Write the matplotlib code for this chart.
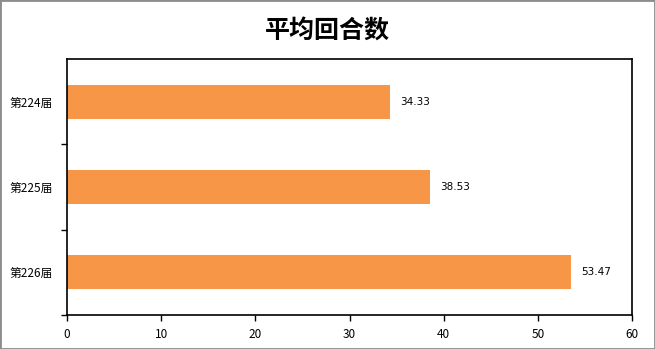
import matplotlib.pyplot as plt
import matplotlib.patches as mpatches

plt.rcParams['font.family'] = ['Noto Sans CJK SC', 'DejaVu Sans']

categories = ["第224届", "第225届", "第226届"]
values = [34.33, 38.53, 53.47]
title = "平均回合数"

fig = plt.figure(figsize=(6.55, 3.49), dpi=100)
ax = fig.add_axes([67 / 655, 34 / 349, 565 / 655, 256 / 349])

pos = list(range(len(categories)))
ax.barh(pos, values, height=0.4, color="#F79646")
for p, v in zip(pos, values):
    ax.text(v + 1.1, p, f"{v:.2f}", va="center", ha="left", fontsize=7.5, family="DejaVu Sans")

ax.set_xlim(0, 60)
ax.set_ylim(len(categories) - 0.5, -0.5)
ax.set_xticks(range(0, 61, 10))
ax.tick_params(axis="x", labelsize=8.5, length=4, width=1, direction="out", pad=5)
ax.set_yticks([0.5 + i for i in range(len(categories))])
ax.set_yticklabels([])
ax.set_yticks(pos, minor=True)
ax.set_yticklabels(categories, minor=True, fontsize=8.5)
ax.tick_params(axis="y", which="major", length=4, width=1, direction="out")
ax.tick_params(axis="y", which="minor", length=0, pad=10)
for s in ax.spines.values():
    s.set_linewidth(1.2)
    s.set_color("black")

fig.text(0.5, 0.91, title, ha="center", va="center", fontsize=18, fontweight="bold")
fig.patches.append(mpatches.Rectangle((0, 0), 1, 1, transform=fig.transFigure,
                                      fill=False, edgecolor="#8c8c8c", linewidth=2))

fig.savefig("out.png", dpi=100)
